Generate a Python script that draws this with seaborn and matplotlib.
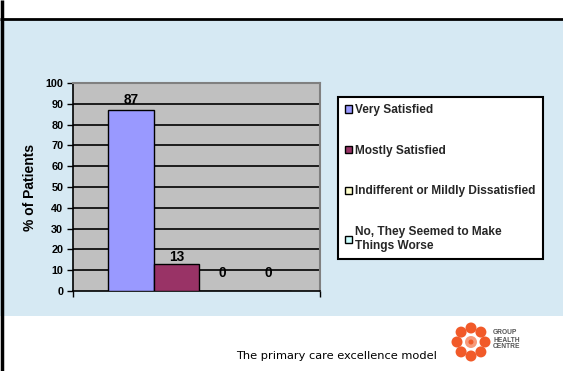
import numpy as np
import pandas as pd
import matplotlib
matplotlib.use("Agg")
import matplotlib.pyplot as plt
from matplotlib.patches import Rectangle, Circle, Arc
import seaborn as sns

categories = ["Very Satisfied", "Mostly Satisfied",
              "Indifferent or Mildly Dissatisfied",
              "No, They Seemed to Make\nThings Worse"]
values = [87, 13, 0, 0]
colors = ["#9999ff", "#993366", "#ffffcc", "#ccffff"]
yticks = list(range(0, 101, 10))
ylabel = "% of Patients"
footer = "The primary care excellence model"

sns.set_theme(style="white")
plt.rcParams['font.family'] = ['Liberation Sans', 'DejaVu Sans']

W, H = 563, 371
fig = plt.figure(figsize=(W / 100, H / 100), dpi=100)
fig.patch.set_facecolor("white")

def fx(x): return x / W
def fy(y): return 1 - y / H

fig.patches.append(Rectangle((0, fy(318)), 1, fy(20) - fy(318), transform=fig.transFigure,
                             facecolor="#d6e9f3", edgecolor="none", zorder=0))
bg = fig.add_axes([0, 0, 1, 1], zorder=0.5)
bg.set_xlim(0, W); bg.set_ylim(H, 0); bg.axis("off")
bg.add_patch(Arc((250, 700), 900, 1300, theta1=180, theta2=240, color="white", alpha=0.3, lw=5))
bg.add_patch(Arc((900, 700), 900, 1300, theta1=180, theta2=220, color="white", alpha=0.3, lw=5))
bg.add_patch(Rectangle((0, 316), W, 60, facecolor="white", edgecolor="none"))
bg.plot([2, 2], [0, H], color="black", lw=2.5, solid_capstyle="butt")
bg.plot([0, W], [19, 19], color="black", lw=2, solid_capstyle="butt")

# logo
cx, cy, r = 471, 342, 14
for ang in np.linspace(0, 2 * np.pi, 9)[:-1]:
    bg.add_patch(Circle((cx + r * np.cos(ang), cy + r * np.sin(ang)), 5.5, color="#f15a29", ec="none"))
bg.add_patch(Circle((cx, cy), 6, color="#f79a7a", ec="none"))
bg.add_patch(Circle((cx, cy), 2.5, color="#f15a29", ec="none"))
bg.text(493, 340, "GROUP\nHEALTH\nCENTRE", fontsize=4.8, color="#555555", va="center", ha="left",
        linespacing=1.0, fontweight="bold")
bg.text(336, 356, footer, fontsize=8.2, color="black", ha="center", va="center",
        family=["DejaVu Sans"])

# main axes
ax = fig.add_axes([fx(73), fy(291), fx(320) - fx(73), fy(83) - fy(291)], zorder=2)
df = pd.DataFrame({"group": [""] * 4, "response": categories, "value": values})
sns.barplot(data=df, x="group", y="value", hue="response", hue_order=categories,
            palette=colors, saturation=1, width=0.74, edgecolor="black", linewidth=1,
            legend=False, ax=ax, zorder=3)
ax.set_facecolor("#c0c0c0")
ax.set_ylim(0, 100)
ax.set_xlim(-0.512, 0.488)
ax.set_yticks(yticks)
ax.set_yticklabels([str(t) for t in yticks], fontsize=7.8, fontweight="bold", color="black")
ax.set_xticks([-0.512, 0.488])
ax.set_xticklabels(["", ""])
ax.tick_params(axis="both", direction="out", length=4, width=1, color="black", pad=3,
               left=True, bottom=True)
ax.set_xlabel("")
ax.set_ylabel(ylabel, fontsize=10, fontweight="bold", labelpad=6, color="black")
for t in yticks[1:-1]:
    ax.axhline(t, color="black", lw=1.2, zorder=1)
for s in ["top", "right"]:
    ax.spines[s].set_color("#808080"); ax.spines[s].set_linewidth(1.5)
for s in ["left", "bottom"]:
    ax.spines[s].set_color("black"); ax.spines[s].set_linewidth(1.2)

pads = [2, 0, 8, 8]
for cont, p in zip(ax.containers, pads):
    ax.bar_label(cont, labels=[f"{v:g}" for v in cont.datavalues], padding=p,
                 fontsize=9.8, fontweight="bold", color="black", zorder=5)

handles = [Rectangle((0, 0), 1, 1, facecolor=c, edgecolor="black", lw=1) for c in colors]
leg = fig.legend(handles, categories, loc="upper left",
                 bbox_to_anchor=(fx(338), fy(97)), bbox_transform=fig.transFigure,
                 fancybox=False, edgecolor="black", framealpha=1, facecolor="white",
                 prop={"size": 8.6, "weight": "bold"}, handlelength=0.55, handleheight=0.55,
                 handletextpad=0.3, labelspacing=2.4, borderpad=0.6, borderaxespad=0)
leg.get_frame().set_linewidth(1.5)
leg.set_zorder(5)

fig.savefig("out.png", dpi=100)
